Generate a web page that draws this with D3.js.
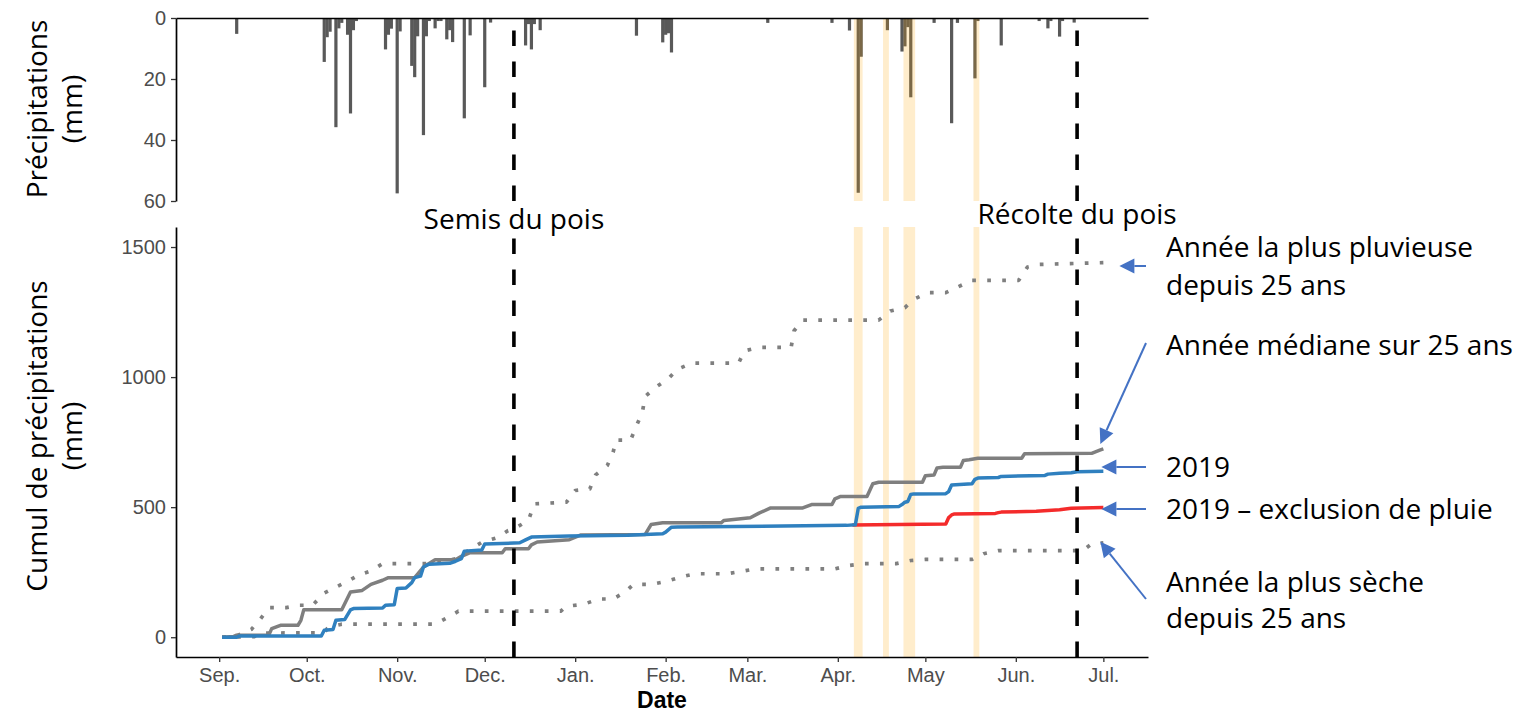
<!DOCTYPE html>
<html lang="fr">
<head>
<meta charset="utf-8">
<script src="https://cdn.jsdelivr.net/npm/d3@7"></script>
<style>
  html, body { margin: 0; padding: 0; background: #fff; }
  svg { display: block; }
</style>
</head>
<body>
<svg id="chart" width="1522" height="713"></svg>
<script>
// ---------------------------------------------------------------------------
// Data — every series is indexed in days since 1 September 2018 (day 0).
// ---------------------------------------------------------------------------
const originDate = "2018-09-01";

// Month ticks on the date axis
const monthTicks = ["2018-09-01", "2018-10-01", "2018-11-01", "2018-12-01", "2019-01-01",
                    "2019-02-01", "2019-03-01", "2019-04-01", "2019-05-01", "2019-06-01", "2019-07-01"];
const monthLabels = ["Sep.", "Oct.", "Nov.", "Dec.", "Jan.", "Feb.", "Mar.", "Apr.", "May", "Jun.", "Jul."];

// Tick values of the two y axes
const rainTicks = [0, 20, 40, 60];
const cumulTicks = [0, 500, 1000, 1500];

// Daily rainfall of the 2018-2019 season (mm)
const rainDays = [6, 36, 37, 38, 40, 41, 42, 44, 45, 46, 47, 57, 58, 59, 61, 62, 66, 67, 68, 70,
                  71, 72, 74, 75, 76, 78, 79, 80, 84, 86, 91, 93, 105, 106, 107, 108, 110, 143,
                  152, 153, 154, 155, 188, 210, 216, 219, 220, 229, 234, 235, 236, 237, 245, 251,
                  253, 259, 260, 268, 281, 284, 285, 288, 289, 293];
const rainMm   = [5.2, 14.4, 6.3, 4.5, 35.8, 3.4, 1.6, 5.5, 31.3, 4.0, 1.0, 10.3, 5.5, 3.5, 57.5, 4.4,
                  15.7, 19.4, 6.0, 38.4, 6.0, 1.0, 3.4, 1.0, 1.0, 7.0, 4.0, 7.9, 32.9, 5.7, 22.7, 1.5,
                  9.0, 2.0, 10.3, 2.0, 4.0, 5.8, 8.0, 5.5, 5.0, 11.3, 1.6, 1.6, 4.1, 57.3, 12.7, 4.0,
                  11.0, 9.3, 3.0, 26.0, 1.6, 34.5, 1.6, 19.8, 1.0, 9.0, 1.0, 3.4, 1.0, 6.1, 1.0, 1.5];

// Rain-exclusion periods (start and end, in days)
const exclusionStart = [217.5, 227.5, 234.5, 258.5];
const exclusionEnd   = [220.5, 229.5, 238.5, 260.5];

// Sowing and harvest of the pea crop
const eventDates  = ["2018-12-11", "2019-06-22"];
const eventLabels = ["Semis du pois", "Récolte du pois"];

// Cumulative rainfall (mm): [day, cumulative mm]
const wettestYear = [[1,0],[6,5],[11,30],[14,68],[17,114],[23,114],[27,123],[32,123],[36,170],[39,187],
  [44,215],[48,240],[52,255],[56,283],[72,283],[76,288],[81,302],[85,330],[90,365],[95,382],[99,410],
  [102,423],[106,450],[108,513],[119,519],[122,564],[127,570],[129,624],[133,660],[135,711],[136,758],
  [141,758],[143,813],[145,864],[146,926],[150,964],[154,995],[157,1030],[162,1054],[178,1054],[180,1101],
  [185,1114],[196,1114],[197,1178],[200,1219],[226,1219],[230,1254],[235,1267],[238,1299],[243,1325],
  [249,1325],[253,1346],[258,1372],[274,1372],[277,1423],[281,1433],[303,1440]];

const medianYear = [[1,0],[5,3],[6,8],[17,8],[18,33],[21,46],[27,46],[28,65],[29,106],[42,106],[45,174],
  [49,180],[52,203],[56,219],[58,229],[67,229],[70,270],[74,298],[81,298],[83,311],[86,325],[97,325],
  [98,340],[106,340],[107,355],[109,366],[120,375],[124,393],[146,395],[148,433],[152,440],[172,440],
  [173,449],[182,459],[185,477],[189,497],[200,497],[203,510],[210,510],[211,532],[213,541],[222,541],
  [224,590],[226,596],[241,596],[242,621],[245,624],[246,651],[248,653],[254,653],[255,679],[257,682],
  [260,688],[275,688],[276,705],[299,707],[302,720],[303,724]];

const season2019 = [[1,0],[6,0],[7,5],[35,5],[36,27],[39,30],[40,65],[43,68],[45,105],[46,110],[56,112],
  [57,123],[60,125],[61,187],[64,189],[66,210],[67,229],[69,235],[70,270],[71,276],[72,281],[79,284],
  [81,292],[83,302],[84,331],[90,335],[91,358],[103,363],[105,374],[107,385],[120,389],[140,392],
  [146,395],[152,398],[153,404],[155,423],[157,424],[215,430],[218,432],[219,495],[220,500],[233,503],
  [234,510],[235,519],[236,522],[237,549],[238,551],[249,552],[250,560],[251,585],[258,590],[259,607],
  [260,612],[267,614],[268,618],[283,622],[284,627],[288,630],[292,632],[294,636],[303,638]];

const season2019Exclusion = [[217,431],[249,435],[250,460],[251,470],[252,474],[266,476],[267,479],
  [268,481],[280,484],[284,487],[288,490],[292,496],[303,499]];

const driestYear = [[1,0],[12,2],[14,16],[36,17],[37,33],[39,42],[42,50],[74,50],[78,74],[82,100],
  [117,100],[119,119],[125,127],[130,147],[135,147],[139,173],[142,203],[148,203],[153,214],[158,231],
  [163,244],[174,244],[179,253],[184,263],[211,263],[216,276],[221,283],[232,283],[237,295],[242,299],
  [258,299],[262,321],[267,333],[296,333],[299,359],[303,363]];

// ---------------------------------------------------------------------------
// Layout
// ---------------------------------------------------------------------------
const svg = d3.select("#chart");
const left = 176, right = 1148;
const rainTop = 18, rainBottom = 201;
const cumTop = 227, cumBottom = 657;

const parse = d3.timeParse("%Y-%m-%d");
const origin = parse(originDate);
const toDate = d => new Date(origin.getTime() + d * 864e5);

const x = d3.scaleTime().domain([toDate(-14.8), toDate(318.3)]).range([left, right]);
const yRain = d3.scaleLinear().domain([0, 60]).range([rainTop, rainBottom]);
const yCum = d3.scaleLinear().domain([-76, 1577]).range([cumBottom, cumTop]);

const textFont = "'Open Sans', 'Noto Sans', sans-serif";
const textSize = 28;
const tickFont = "'Liberation Sans', Arial, sans-serif";
const grey = "#7f7f7f";

// ---------------------------------------------------------------------------
// Top panel: daily rainfall bars hanging from the zero line
// ---------------------------------------------------------------------------
const rainPanel = svg.append("g");
rainPanel.selectAll("rect.rain")
  .data(rainDays.map((d, i) => ({ day: d, mm: rainMm[i] })))
  .join("rect")
  .attr("class", "rain")
  .attr("x", d => x(toDate(d.day - 0.55)))
  .attr("width", d => x(toDate(d.day + 0.55)) - x(toDate(d.day - 0.55)))
  .attr("y", yRain(0))
  .attr("height", d => yRain(d.mm) - yRain(0))
  .attr("fill", "#595959");

const periods = exclusionStart.map((s, i) => ({ start: s, end: exclusionEnd[i] }));
rainPanel.selectAll("rect.excl")
  .data(periods)
  .join("rect")
  .attr("class", "excl")
  .attr("x", d => x(toDate(d.start)))
  .attr("width", d => x(toDate(d.end)) - x(toDate(d.start)))
  .attr("y", rainTop)
  .attr("height", rainBottom - rainTop)
  .attr("fill", "#ffa500")
  .attr("fill-opacity", 0.2);

// ---------------------------------------------------------------------------
// Bottom panel: cumulative rainfall
// ---------------------------------------------------------------------------
const cumPanel = svg.append("g");
cumPanel.selectAll("rect.excl")
  .data(periods)
  .join("rect")
  .attr("class", "excl")
  .attr("x", d => x(toDate(d.start)))
  .attr("width", d => x(toDate(d.end)) - x(toDate(d.start)))
  .attr("y", cumTop)
  .attr("height", cumBottom - cumTop)
  .attr("fill", "#ffa500")
  .attr("fill-opacity", 0.2);

const line = d3.line().x(p => x(toDate(p[0]))).y(p => yCum(p[1]));

const seriesStyles = [
  { data: driestYear, color: grey, dash: "3.7 11.3", width: 3.7 },
  { data: wettestYear, color: grey, dash: "3.7 11.3", width: 3.7 },
  { data: medianYear, color: grey, dash: null, width: 3.5 },
  { data: season2019Exclusion, color: "#f42b2b", dash: null, width: 3.5 },
  { data: season2019, color: "#2f80bf", dash: null, width: 3.5 }
];
seriesStyles.forEach(s => {
  cumPanel.append("path")
    .attr("d", line(s.data))
    .attr("fill", "none")
    .attr("stroke", s.color)
    .attr("stroke-width", s.width)
    .attr("stroke-linejoin", "round")
    .attr("stroke-dasharray", s.dash);
});

// Sowing / harvest markers in both panels (dashes start at the panel bottom)
eventDates.forEach(ds => {
  const xe = x(parse(ds));
  [[rainBottom, rainTop], [cumBottom, cumTop]].forEach(([y0, y1]) => {
    svg.append("line")
      .attr("x1", xe).attr("x2", xe).attr("y1", y0).attr("y2", y1)
      .attr("stroke", "#000").attr("stroke-width", 3.6)
      .attr("stroke-dasharray", "15.5 15.5");
  });
});

// ---------------------------------------------------------------------------
// Axes
// ---------------------------------------------------------------------------
function styleAxis(g) {
  g.attr("font-family", tickFont).attr("font-size", 20);
  g.select(".domain").attr("stroke", "#000").attr("stroke-width", 1.7);
  g.selectAll(".tick line").attr("stroke", "#333").attr("stroke-width", 1.3);
  g.selectAll(".tick text").attr("fill", "#4d4d4d");
}

svg.append("g").attr("transform", `translate(${left},0)`)
  .call(d3.axisLeft(yRain).tickValues(rainTicks).tickFormat(d3.format("d"))
        .tickSize(5).tickSizeOuter(0).tickPadding(5))
  .call(styleAxis);

svg.append("g").attr("transform", `translate(0,${rainTop})`)
  .call(d3.axisTop(x).tickValues([]).tickSizeOuter(0))
  .call(styleAxis);

svg.append("g").attr("transform", `translate(${left},0)`)
  .call(d3.axisLeft(yCum).tickValues(cumulTicks).tickFormat(d3.format("d"))
        .tickSize(5).tickSizeOuter(0).tickPadding(5))
  .call(styleAxis);

svg.append("g").attr("transform", `translate(0,${cumBottom})`)
  .call(d3.axisBottom(x).tickValues(monthTicks.map(parse))
        .tickFormat((d, i) => monthLabels[i]).tickSize(5).tickSizeOuter(0).tickPadding(6))
  .call(styleAxis);

// Axis titles
svg.append("text")
  .attr("x", (left + right) / 2).attr("y", 708)
  .attr("text-anchor", "middle")
  .attr("font-family", tickFont).attr("font-weight", "bold").attr("font-size", 23)
  .attr("fill", "#000")
  .text("Date");

function verticalTitle(lines, cy) {
  const t = svg.append("text")
    .attr("transform", `translate(0,${cy}) rotate(-90)`)
    .attr("text-anchor", "middle")
    .attr("font-family", textFont).attr("font-size", textSize).attr("fill", "#000");
  lines.forEach((s, i) => t.append("tspan").attr("x", 0).attr("y", i === 0 ? 47 : 82).text(s));
}
verticalTitle(["Précipitations", "(mm)"], 109);
verticalTitle(["Cumul de précipitations", "(mm)"], 436);

// Sowing / harvest labels
const eventBaselines = [229, 224];
eventDates.forEach((ds, i) => {
  svg.append("text")
    .attr("x", x(parse(ds))).attr("y", eventBaselines[i])
    .attr("text-anchor", "middle")
    .attr("font-family", textFont).attr("font-size", textSize).attr("fill", "#000")
    .text(eventLabels[i]);
});

// ---------------------------------------------------------------------------
// Series annotations with arrows pointing at the end of each curve
// ---------------------------------------------------------------------------
const arrowColor = "#4472c4";
const lastPoint = s => s[s.length - 1];
const notes = [
  { lines: ["Année la plus pluvieuse", "depuis 25 ans"], baselines: [257, 295], series: wettestYear,
    tail: [1146, 266], tipFrom: p => [x(toDate(p[0])) + 16, 266] },
  { lines: ["Année médiane sur 25 ans"], baselines: [355], series: medianYear,
    tail: [1146, 343], tipFrom: p => [x(toDate(p[0])) - 3, yCum(p[1]) - 5] },
  { lines: ["2019"], baselines: [477], series: season2019,
    tail: [1146, 467], tipFrom: p => [x(toDate(p[0])) - 2, 467] },
  { lines: ["2019 – exclusion de pluie"], baselines: [519], series: season2019Exclusion,
    tail: [1146, 509], tipFrom: p => [x(toDate(p[0])) - 2, 509] },
  { lines: ["Année la plus sèche", "depuis 25 ans"], baselines: [592, 628], series: driestYear,
    tail: [1146, 599], tipFrom: p => [x(toDate(p[0])) - 3, yCum(p[1]) - 1] }
];

notes.forEach(n => {
  n.lines.forEach((s, i) => {
    svg.append("text")
      .attr("x", 1166).attr("y", n.baselines[i])
      .attr("font-family", textFont).attr("font-size", textSize).attr("fill", "#000")
      .text(s);
  });
  const [tx, ty] = n.tail;
  const [hx, hy] = n.tipFrom(lastPoint(n.series));
  const len = Math.hypot(hx - tx, hy - ty);
  const ux = (hx - tx) / len, uy = (hy - ty) / len;
  const headLen = 15, headHalf = 7.5;
  const bx = hx - ux * headLen, by = hy - uy * headLen;
  svg.append("line")
    .attr("x1", tx).attr("y1", ty).attr("x2", bx).attr("y2", by)
    .attr("stroke", arrowColor).attr("stroke-width", 2);
  svg.append("path")
    .attr("d", `M${hx},${hy}L${bx - uy * headHalf},${by + ux * headHalf}L${bx + uy * headHalf},${by - ux * headHalf}Z`)
    .attr("fill", arrowColor);
});
</script>
</body>
</html>
